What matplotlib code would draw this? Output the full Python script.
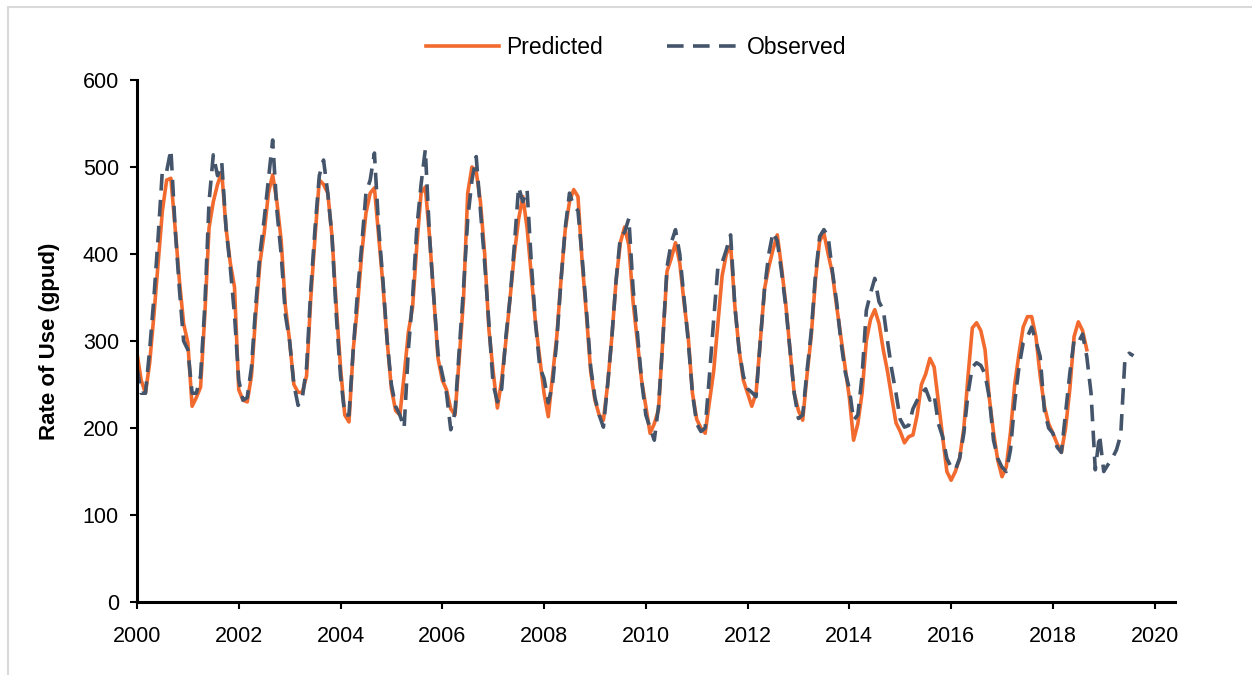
import numpy as np
import pandas as pd
import matplotlib
matplotlib.use("Agg")
from matplotlib import pyplot as plt
from matplotlib.patches import Rectangle

plt.rcParams['font.family'] = ['Liberation Sans', 'DejaVu Sans']

# Monthly rate of use (gpud), Jan 2000 onward, one row per year
predicted = [
    286, 255, 240, 275, 330, 390, 450, 485, 487, 430, 370, 320,  # 2000
    298, 225, 235, 247, 330, 430, 460, 480, 494, 430, 390, 362,  # 2001
    244, 232, 230, 260, 330, 390, 424, 470, 491, 460, 416, 340,  # 2002
    300, 250, 241, 241, 260, 350, 420, 485, 480, 470, 420, 340,  # 2003
    270, 215, 207, 290, 340, 400, 447, 470, 476, 420, 365, 300,  # 2004
    245, 220, 215, 260, 310, 339, 410, 470, 477, 420, 350, 280,  # 2005
    255, 244, 222, 215, 280, 347, 470, 500, 495, 460, 400, 313,  # 2006
    265, 223, 255, 300, 350, 400, 440, 466, 430, 375, 320, 280,  # 2007
    240, 213, 260, 305, 370, 428, 460, 474, 466, 390, 330, 265,  # 2008
    232, 215, 209, 250, 305, 370, 413, 431, 410, 345, 300, 255,  # 2009
    225, 194, 205, 221, 300, 380, 395, 413, 390, 345, 305, 240,  # 2010
    210, 200, 194, 230, 265, 320, 375, 400, 410, 340, 290, 255,  # 2011
    240, 225, 240, 300, 360, 385, 405, 422, 385, 343, 290, 240,  # 2012
    220, 209, 260, 305, 370, 415, 424, 400, 378, 340, 305, 270,  # 2013
    235, 186, 205, 240, 300, 325, 336, 320, 290, 265, 235, 206,  # 2014
    196, 183, 190, 192, 215, 250, 262, 280, 270, 230, 190, 150,  # 2015
    140, 150, 165, 200, 260, 315, 321, 312, 290, 235, 195, 163,  # 2016
    144, 155, 195, 250, 285, 316, 328, 328, 305, 260, 225, 205,  # 2017
    194, 182, 172, 200, 245, 305, 322, 312, 290,                 # 2018
]

observed = [
    270, 240, 240, 290, 350, 420, 497, 495, 520, 430, 360, 300,  # 2000
    290, 240, 240, 260, 340, 460, 514, 490, 505, 430, 385, 330,  # 2001
    255, 232, 235, 270, 340, 400, 440, 485, 531, 450, 400, 330,  # 2002
    300, 250, 226, 235, 270, 360, 430, 490, 508, 470, 420, 330,  # 2003
    260, 215, 215, 290, 355, 410, 470, 485, 516, 430, 370, 300,  # 2004
    250, 225, 215, 200, 290, 350, 430, 480, 520, 420, 350, 285,  # 2005
    262, 240, 198, 218, 290, 360, 440, 485, 512, 450, 390, 320,  # 2006
    250, 230, 245, 305, 350, 410, 477, 460, 474, 390, 320, 270,  # 2007
    257, 229, 250, 300, 370, 430, 470, 455, 450, 395, 335, 270,  # 2008
    235, 215, 201, 250, 305, 370, 420, 425, 441, 360, 310, 255,  # 2009
    215, 200, 186, 225, 300, 385, 413, 428, 400, 350, 300, 240,  # 2010
    205, 196, 200, 260, 324, 385, 390, 405, 422, 340, 290, 260,  # 2011
    245, 241, 236, 300, 360, 400, 425, 415, 380, 340, 290, 240,  # 2012
    211, 215, 265, 310, 375, 420, 428, 420, 380, 345, 300, 265,  # 2013
    245, 209, 215, 260, 335, 355, 372, 345, 336, 300, 267, 240,  # 2014
    210, 201, 203, 222, 232, 240, 245, 232, 238, 205, 190, 165,  # 2015
    155, 152, 165, 194, 240, 270, 275, 272, 262, 235, 186, 165,  # 2016
    155, 150, 175, 230, 270, 298, 305, 316, 300, 282, 220, 200,  # 2017
    194, 178, 172, 217, 263, 301, 298, 308, 282, 240, 152, 192,  # 2018
    150, 158, 165, 175, 192, 280, 286, 283,                      # 2019
]

year_ticks = list(range(2000, 2021, 2))
y_ticks = [0, 100, 200, 300, 400, 500, 600]


def decimal_years(n):
    months = pd.date_range('2000-01-01', periods=n, freq='MS')
    return months.year + (months.month - 1) / 12.0


fig = plt.figure(figsize=(12.52, 6.75), dpi=100)
ax = fig.add_axes([0.1094, 0.1081, 0.8291, 0.7734])

# light grey frame of the exported chart area
fig.patches.append(Rectangle((8 / 1252, -0.05), 1.2, 1 - 7 / 675 + 0.05,
                             transform=fig.transFigure, fill=False,
                             edgecolor='#d9d9d9', linewidth=1.5))

ax.plot(decimal_years(len(predicted)), predicted, color='#F26A2E',
        linewidth=2.6, label='Predicted', solid_joinstyle='round')
ax.plot(decimal_years(len(observed)), observed, color='#44546A',
        linewidth=2.6, linestyle=(0, (4.6, 2.6)), label='Observed')

ax.set_xlim(2000, 2020.4)
ax.set_ylim(0, 600)
ax.set_xticks(year_ticks)
ax.set_yticks(y_ticks)
ax.tick_params(axis='both', labelsize=15.5, width=1.5, length=5,
               direction='out', colors='black')
ax.tick_params(axis='x', pad=12)
ax.tick_params(axis='y', pad=8)

for side in ['top', 'right']:
    ax.spines[side].set_visible(False)
for side in ['left', 'bottom']:
    ax.spines[side].set_linewidth(2.2)
    ax.spines[side].set_color('black')

ax.set_ylabel('Rate of Use (gpud)', fontsize=16, fontweight='bold', labelpad=16)

fig.legend(loc='center', bbox_to_anchor=(0.508, 0.929), ncol=2, frameon=False,
           fontsize=16.5, handlelength=3.2, columnspacing=2.8, handletextpad=0.3)

plt.savefig('out.png', dpi=100)
